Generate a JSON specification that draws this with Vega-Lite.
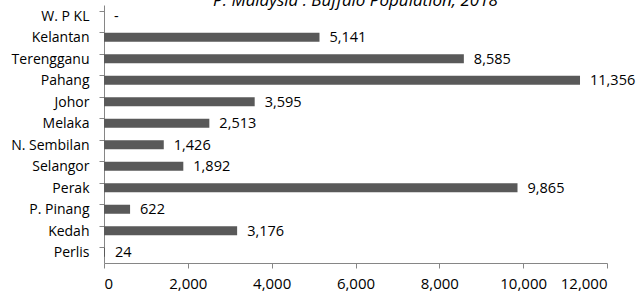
{
  "$schema": "https://vega.github.io/schema/vega-lite/v6.json",
  "width": 503,
  "height": 258,
  "autosize": {"type": "none"},
  "padding": {"left": 104, "top": 5, "right": 31, "bottom": 34},
  "background": "white",
  "title": {"text": "P. Malaysia : Buffalo Population, 2018", "font": "Open Sans", "fontSize": 17, "fontStyle": "italic", "fontWeight": "normal", "color": "#000000", "anchor": "middle", "baseline": "alphabetic", "frame": "group", "offset": 0, "dy": 18},
  "data": {"values": [
    {"state": "W. P KL", "value": 0, "label": "-"},
    {"state": "Kelantan", "value": 5141, "label": "5,141"},
    {"state": "Terengganu", "value": 8585, "label": "8,585"},
    {"state": "Pahang", "value": 11356, "label": "11,356"},
    {"state": "Johor", "value": 3595, "label": "3,595"},
    {"state": "Melaka", "value": 2513, "label": "2,513"},
    {"state": "N. Sembilan", "value": 1426, "label": "1,426"},
    {"state": "Selangor", "value": 1892, "label": "1,892"},
    {"state": "Perak", "value": 9865, "label": "9,865"},
    {"state": "P. Pinang", "value": 622, "label": "622"},
    {"state": "Kedah", "value": 3176, "label": "3,176"},
    {"state": "Perlis", "value": 24, "label": "24"}
  ]},
  "encoding": {
    "y": {"field": "state", "type": "nominal", "sort": null, "title": null,
      "scale": {"paddingInner": 0.58, "paddingOuter": 0.29},
      "axis": {"domainColor": "#868686", "tickColor": "#868686", "tickSize": 5, "labelFont": "Open Sans", "labelFontSize": 14, "labelColor": "#000000", "labelPadding": 10, "labelBaseline": "middle", "labelOffset": 1, "grid": false, "bandPosition": 0}},
    "x": {"field": "value", "type": "quantitative", "title": null,
      "scale": {"domain": [0, 12000], "nice": false},
      "axis": {"values": [0, 2000, 4000, 6000, 8000, 10000, 12000], "format": ",d", "domainColor": "#868686", "tickColor": "#868686", "tickSize": 5, "labelFont": "Open Sans", "labelFontSize": 15, "labelColor": "#000000", "labelPadding": 8, "grid": false}}
  },
  "layer": [
    {"mark": {"type": "bar", "color": "#595959"}},
    {"mark": {"type": "text", "align": "left", "baseline": "middle", "dx": 10, "dy": 1, "font": "Open Sans", "fontSize": 14.5, "color": "#000000"},
      "encoding": {"text": {"field": "label"}}}
  ],
  "config": {"view": {"stroke": null}}
}
